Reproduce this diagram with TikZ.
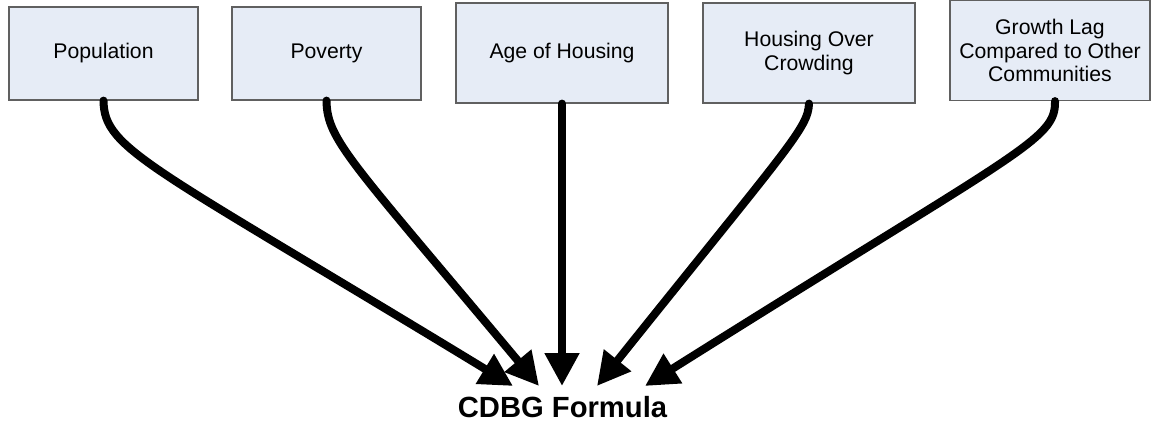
\documentclass[tikz,border=0pt]{standalone}
\usepackage{fontspec}
\setmainfont{Liberation Sans}
\usetikzlibrary{arrows.meta}
\definecolor{boxfill}{HTML}{E6ECF6}
\definecolor{boxline}{HTML}{606060}
\tikzset{
  factor/.style={draw=boxline, fill=boxfill, line width=0.6pt, align=center,
    inner sep=2pt, font=\fontsize{10.6}{11.8}\selectfont},
  feed/.style={line width=4pt, line cap=round,
    -{Triangle[length=16.5pt,width=16.5pt]}}
}
\begin{document}
\begin{tikzpicture}[x=0.5pt,y=-0.5pt]
\useasboundingbox (0,0) rectangle (1152,423);
\node[factor, minimum width=94.5pt, minimum height=46.5pt] (pop) at (103.5,53.5) {Population};
\node[factor, minimum width=94.5pt, minimum height=46.5pt] (pov) at (326.5,53.5) {Poverty};
\node[factor, minimum width=106pt, minimum height=50pt] (age) at (562,53) {Age of Housing};
\node[factor, minimum width=106pt, minimum height=50pt] (crowd) at (809,53) {Housing Over\\Crowding};
\node[factor, minimum width=100pt, minimum height=50pt] (lag) at (1050,50.5) {Growth Lag\\Compared to Other\\Communities};
\node[font=\bfseries\fontsize{14.6}{17}\selectfont, inner sep=0pt] (formula) at (562.5,407) {CDBG Formula};
% arrow tips above the formula
\coordinate (t1) at (513,386);
\coordinate (t2) at (539,386);
\coordinate (t3) at (562,386);
\coordinate (t4) at (597,386);
\coordinate (t5) at (645,386);
\draw[feed] (pop.south) .. controls (104,150) and (150,165) .. (t1);
\draw[feed] (pov.south) .. controls (327,140) and (350,160) .. (t2);
\draw[feed] (age.south) -- (t3);
\draw[feed] (crowd.south) .. controls (808,128) and (790,145) .. (t4);
\draw[feed] ([xshift=2.5pt]lag.south) .. controls (1056,140) and (1020,150) .. (t5);
\end{tikzpicture}
\end{document}
